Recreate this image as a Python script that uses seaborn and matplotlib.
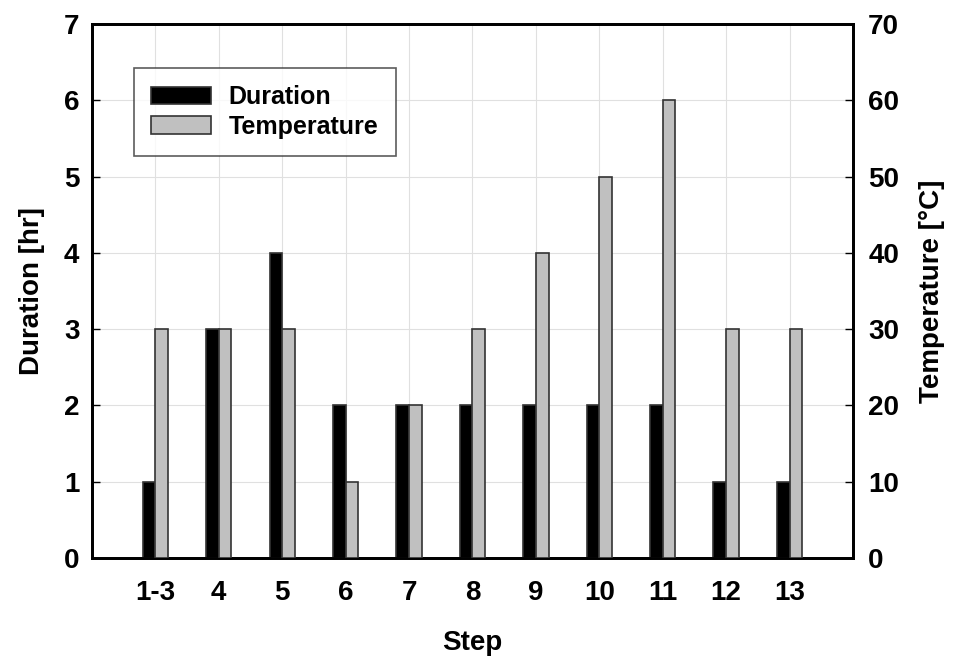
import matplotlib
matplotlib.use("Agg")
import matplotlib.pyplot as plt
from matplotlib.patches import Patch
import seaborn as sns
import pandas as pd

steps = ["1-3", "4", "5", "6", "7", "8", "9", "10", "11", "12", "13"]
duration = [1, 3, 4, 2, 2, 2, 2, 2, 2, 1, 1]
temperature = [30, 30, 30, 10, 20, 30, 40, 50, 60, 30, 30]

sns.set_theme(style="white")
plt.rcParams['font.family'] = ['Liberation Sans', 'DejaVu Sans']
plt.rcParams['font.weight'] = 'bold'
plt.rcParams['text.color'] = 'black'
plt.rcParams['axes.labelcolor'] = 'black'
plt.rcParams['xtick.color'] = 'black'
plt.rcParams['ytick.color'] = 'black'

df_d = pd.DataFrame({"Step": steps, "Value": duration, "Series": "Duration"})
df_t = pd.DataFrame({"Step": steps, "Value": temperature, "Series": "Temperature"})
hue_order = ["Duration", "Temperature"]
palette = {"Duration": "#000000", "Temperature": "#c0c0c0"}

fig = plt.figure(figsize=(9.56, 6.57), dpi=100)
ax = fig.add_axes([0.0962, 0.1507, 0.7960, 0.8128])
ax2 = ax.twinx()

sns.barplot(data=df_d, x="Step", y="Value", hue="Series", hue_order=hue_order,
            palette=palette, order=steps, width=0.4, dodge=True, ax=ax,
            edgecolor="#333333", linewidth=1.2, legend=False, zorder=3)
sns.barplot(data=df_t, x="Step", y="Value", hue="Series", hue_order=hue_order,
            palette=palette, order=steps, width=0.4, dodge=True, ax=ax2,
            edgecolor="#333333", linewidth=1.2, legend=False, zorder=3)

ax.set_xlim(-1, len(steps))
ax.set_ylim(0, 7)
ax2.set_ylim(0, 70)
ax.set_yticks(range(0, 8))
ax2.set_yticks(range(0, 71, 10))

ax.set_axisbelow(True)
ax.grid(True, color="#e0e0e0", linewidth=0.8)
ax2.grid(False)

for a in (ax, ax2):
    for s in a.spines.values():
        s.set_linewidth(2.0)
        s.set_color("black")

ax.tick_params(axis="y", direction="in", length=6, width=1, labelsize=20, pad=9, left=True)
ax.tick_params(axis="x", length=0, labelsize=20, pad=16)
ax2.tick_params(axis="y", direction="in", length=6, width=1, labelsize=20, pad=11, right=True)
for lab in ax.get_xticklabels() + ax.get_yticklabels() + ax2.get_yticklabels():
    lab.set_fontweight("bold")

ax.set_xlabel("Step", fontsize=20, fontweight="bold", labelpad=17)
ax.set_ylabel("Duration [hr]", fontsize=20, fontweight="bold", labelpad=14)
ax2.set_ylabel("Temperature [°C]", fontsize=20, fontweight="bold", labelpad=14)

handles = [Patch(facecolor=palette[h], edgecolor="#333333", linewidth=1.2) for h in hue_order]
leg = ax2.legend(handles, hue_order, loc="upper left", bbox_to_anchor=(0.055, 0.918),
                 fontsize=18, frameon=True, fancybox=False, edgecolor="#333333",
                 handlelength=2.4, handleheight=0.7, borderpad=0.7, labelspacing=0.22,
                 handletextpad=0.7, borderaxespad=0)
leg.get_frame().set_linewidth(1.2)
for t in leg.get_texts():
    t.set_fontweight("bold")

fig.savefig("out.png", dpi=100)
